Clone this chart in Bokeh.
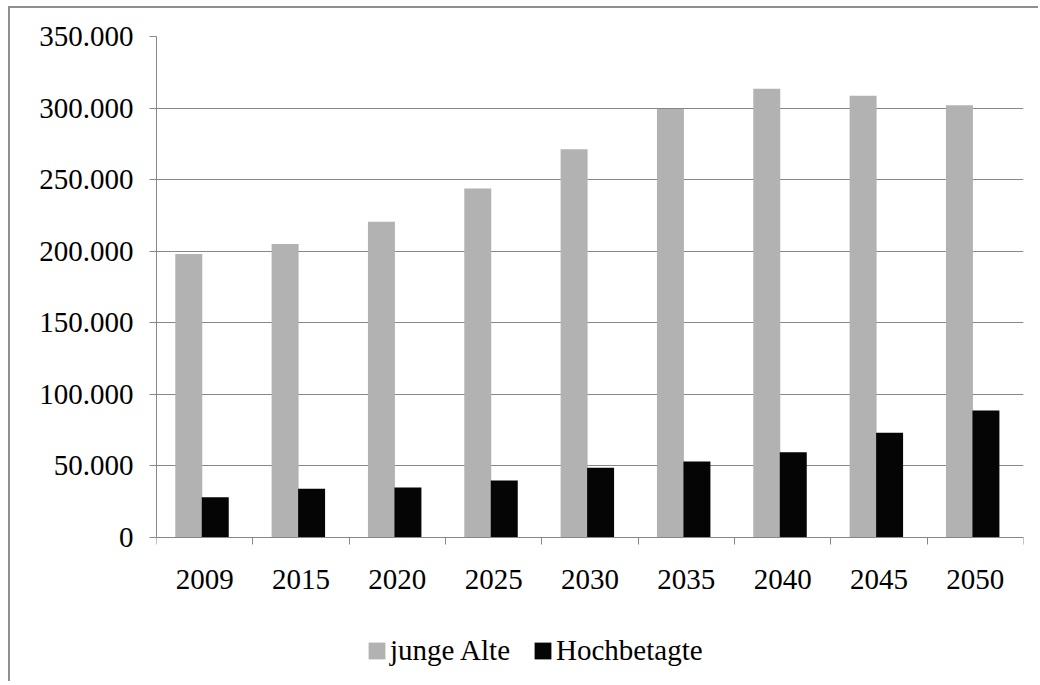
from bokeh.plotting import figure
from bokeh.models import (ColumnDataSource, FixedTicker, Range1d, Legend, LegendItem,
                          CustomJSTickFormatter, LinearAxis)
from bokeh.embed import file_html
from bokeh.resources import INLINE

years = ["2009", "2015", "2020", "2025", "2030", "2035", "2040", "2045", "2050"]
junge_alte = [198000, 205000, 220500, 243800, 271300, 299300, 313500, 308600, 302000]
hochbetagte = [28100, 34000, 34900, 39800, 48700, 53100, 59600, 73100, 88800]
y_ticks = [0, 50000, 100000, 150000, 200000, 250000, 300000, 350000]

centers = [i + 0.5 for i in range(len(years))]
bounds = [float(i) for i in range(len(years) + 1)]

src = ColumnDataSource(dict(
    x_ja=[c - 0.165 for c in centers],
    x_hb=[c + 0.11 for c in centers],
    ja=junge_alte,
    hb=hochbetagte,
))

FONT = "Liberation Serif"
FSIZE = "29px"
GRID = "#878787"

W, H = 1030, 675
TOP, LEFT, RIGHT = 28, 146, 17
AXIS_PX = 501           # pixel height from 0 to 350.000
Y_MAX = 350000
extra_px = H - TOP - AXIS_PX
y_min = -Y_MAX * extra_px / AXIS_PX   # frame extends below 0 to hold the legend

p = figure(width=W, height=H, output_backend="svg", toolbar_location=None,
           x_range=Range1d(0, len(years)), y_range=Range1d(y_min, Y_MAX),
           min_border_left=LEFT, min_border_right=RIGHT, min_border_top=TOP,
           min_border_bottom=0, x_axis_location=None)
p.styles = {"margin-left": "8px", "margin-top": "6px",
            "border-left": "2px solid #8f8f8f", "border-top": "2px solid #8f8f8f"}
p.outline_line_color = None
p.background_fill_color = "white"
p.border_fill_color = "white"

r1 = p.vbar(x="x_ja", top="ja", bottom=0, width=0.28, source=src,
            fill_color="#b2b2b2", line_color=None)
r2 = p.vbar(x="x_hb", top="hb", bottom=0, width=0.28, source=src,
            fill_color="#050505", line_color=None)

xa = LinearAxis(fixed_location=0)
xa.ticker = FixedTicker(ticks=centers, minor_ticks=bounds)
xa.major_label_overrides = {c: y for c, y in zip(centers, years)}
xa.major_tick_out = 0
xa.major_tick_in = 0
xa.minor_tick_out = 7
xa.minor_tick_in = 0
xa.minor_tick_line_color = GRID
xa.axis_line_color = GRID
xa.major_label_standoff = 25
xa.major_label_text_font = FONT
xa.major_label_text_font_size = FSIZE
xa.major_label_text_color = "black"
p.add_layout(xa, "below")

ya = p.yaxis[0]
ya.ticker = FixedTicker(ticks=y_ticks, minor_ticks=[])
ya.bounds = (0, Y_MAX)
ya.formatter = CustomJSTickFormatter(code="""
    return Math.round(tick).toString().replace(/\\B(?=(\\d{3})+(?!\\d))/g, '.');
""")
ya.major_tick_out = 7
ya.major_tick_in = 0
ya.major_tick_line_color = GRID
ya.axis_line_color = GRID
ya.major_label_standoff = 16
ya.major_label_text_font = FONT
ya.major_label_text_font_size = FSIZE
ya.major_label_text_color = "black"

p.xgrid.visible = False
p.ygrid.ticker = FixedTicker(ticks=y_ticks)
p.ygrid.grid_line_color = GRID
p.ygrid.grid_line_width = 1

legend = Legend(items=[LegendItem(label="junge Alte", renderers=[r1]),
                       LegendItem(label="Hochbetagte", renderers=[r2])],
                orientation="horizontal", location=(210, 16),
                glyph_width=21, glyph_height=21, label_standoff=3, spacing=22,
                padding=0, margin=0, border_line_color=None,
                background_fill_alpha=0,
                label_text_font=FONT, label_text_font_size=FSIZE,
                label_text_color="black")
p.add_layout(legend, "center")

open("out.html", "w").write(file_html(p, INLINE))
